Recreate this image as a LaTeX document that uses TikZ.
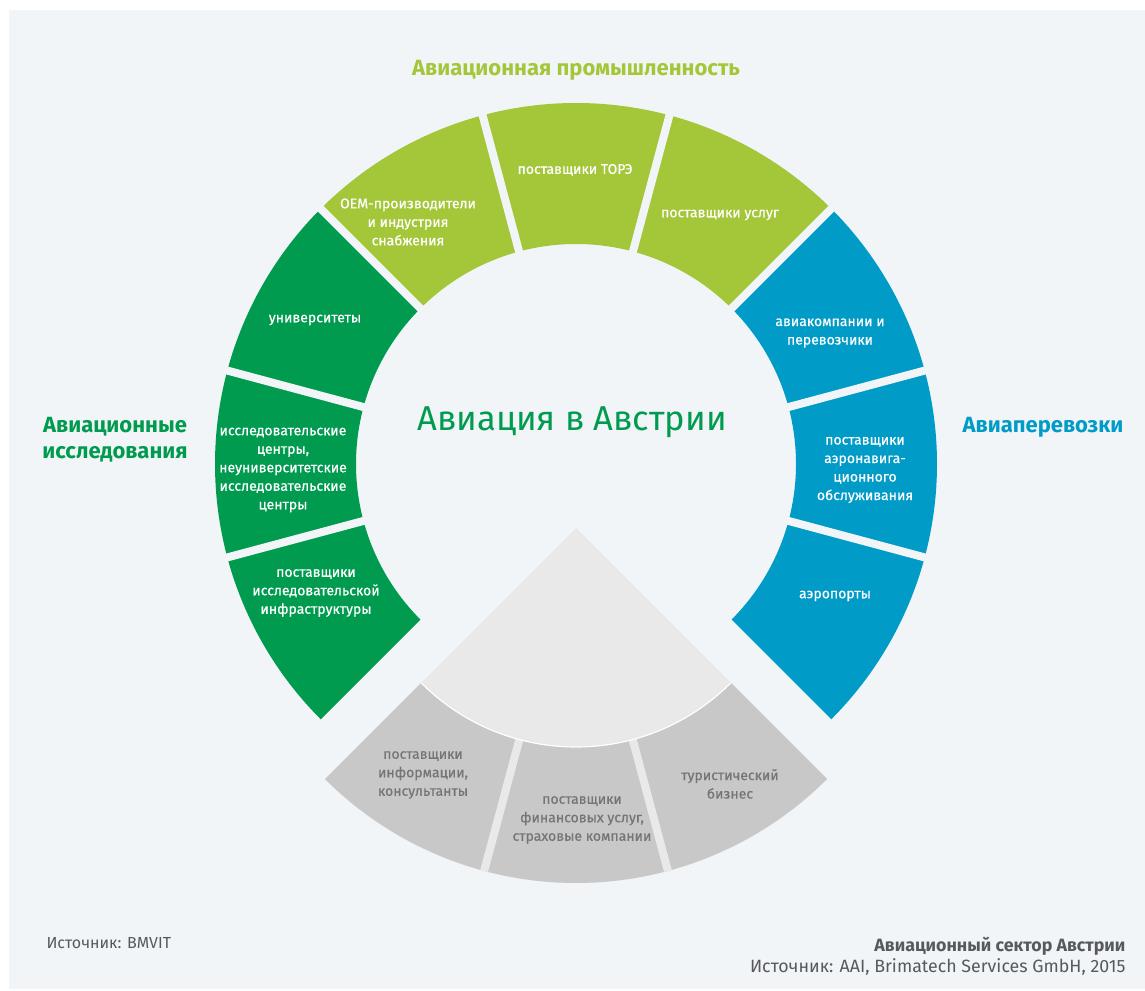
\documentclass[tikz,border=0pt]{standalone}
\usepackage{fontspec}
\setmainfont{Fira Sans}
\newfontfamily\medfont{Fira Sans}[FakeBold=0.6]
\usepackage{tikz}
\usetikzlibrary{calc}
\definecolor{bgpanel}{HTML}{F1F5F8}
\definecolor{avlime}{HTML}{A4C639}
\definecolor{avgreen}{HTML}{009B4F}
\definecolor{avblue}{HTML}{009BC7}
\definecolor{lgray}{HTML}{E9E9E9}
\definecolor{dgray}{HTML}{C8C8C9}
\definecolor{txgray}{HTML}{747577}
\definecolor{ftgray}{HTML}{58595B}
\tikzset{
    seglabel/.style={text=white, align=center, font=\medfont\fontsize{14}{18.5}\selectfont},
    graylabel/.style={seglabel, text=txgray},
    grouplabel/.style={align=center, font=\bfseries\fontsize{22}{26}\selectfont},
    gapline/.style={line width=8pt, bgpanel}
}
\begin{document}
\begin{tikzpicture}[x=1pt,y=1pt]
\fill[white] (0,0) rectangle (1145,990);
\fill[bgpanel] (9,1) rectangle (1145,980);
\useasboundingbox (0,0) rectangle (1145,990);
\coordinate (c) at (576,526);
\coordinate (g) at (576,462);
% ring
\begin{scope}[shift={(c)}]
\foreach \a/\col in {45/avlime, 75/avlime, 105/avlime, 135/avgreen, 165/avgreen, 195/avgreen, -45/avblue, -15/avblue, 15/avblue}{
    \fill[\col] (\a:220) -- (\a:361) arc[start angle=\a, end angle=\a+30, radius=361] -- (\a+30:220) arc[start angle=\a+30, end angle=\a, radius=220] -- cycle;
}
\foreach \a in {-15, 15, 45, 75, 105, 135, 165, 195}{
    \draw[gapline] (\a:210) -- (\a:372);
}
\end{scope}
% lower wedge
\begin{scope}[shift={(g)}]
\fill[lgray] (0,0) -- (225:355) arc[start angle=225, end angle=315, radius=355] -- cycle;
\foreach \a in {225, 255, 285}{
    \fill[dgray] (\a:219) -- (\a:355) arc[start angle=\a, end angle=\a+30, radius=355] -- (\a+30:219) arc[start angle=\a+30, end angle=\a, radius=219] -- cycle;
}
\foreach \a in {255, 285}{
    \draw[line width=8pt, lgray] (\a:219) -- (\a:355);
}
\draw[white, line width=1.2pt] (225:219) arc[start angle=225, end angle=315, radius=219];
\end{scope}
% segment labels
\foreach \x/\y/\p/\labeltext in {408/768/oem/{OEM-производители\\и индустрия\\снабжения}, 575/820/tore/{поставщики ТОРЭ}, 720/775/uslugi/{поставщики услуг}, 315/670/univ/{университеты}, 283/520/centry/{исследовательские\\центры,\\неуниверситетские\\исследовательские\\центры}, 316/397/infra/{поставщики\\исследовательской\\инфраструктуры}, 830/657/avia/{авиакомпании и\\перевозчики}, 865/520/aeronav/{поставщики\\аэронавига-\\ционного\\обслуживания}, 835/394/aeroport/{аэропорты}}{
    \node[seglabel] (\p) at (\x,\y) {\labeltext};
}
\foreach \x/\y/\p/\labeltext in {423/215/inform/{поставщики\\информации,\\консультанты}, 582/170/finans/{поставщики\\финансовых услуг,\\страховые компании}, 730/206/turizm/{туристический\\бизнес}}{
    \node[graylabel] (\p) at (\x,\y) {\labeltext};
}
% titles
\node[text=avgreen, font=\fontsize{34.5}{40}\selectfont] (title) at (572,568) {Авиация в Австрии};
\node[grouplabel, text=avlime] (industry) at (576,920) {Авиационная промышленность};
\node[grouplabel, text=avgreen] (research) at (115,550) {Авиационные\\исследования};
\node[grouplabel, text=avblue] (transport) at (1043,563) {Авиаперевозки};
% footer
\node[anchor=west, text=ftgray, font=\fontsize{16}{20}\selectfont] (srcleft) at (43,47) {Источник: BMVIT};
\node[anchor=east, align=right, text=ftgray, font=\fontsize{17.8}{21}\selectfont] (srcright) at (1129,34) {\textbf{Авиационный сектор Австрии}\\Источник: AAI, Brimatech Services GmbH, 2015};
\end{tikzpicture}
\end{document}
